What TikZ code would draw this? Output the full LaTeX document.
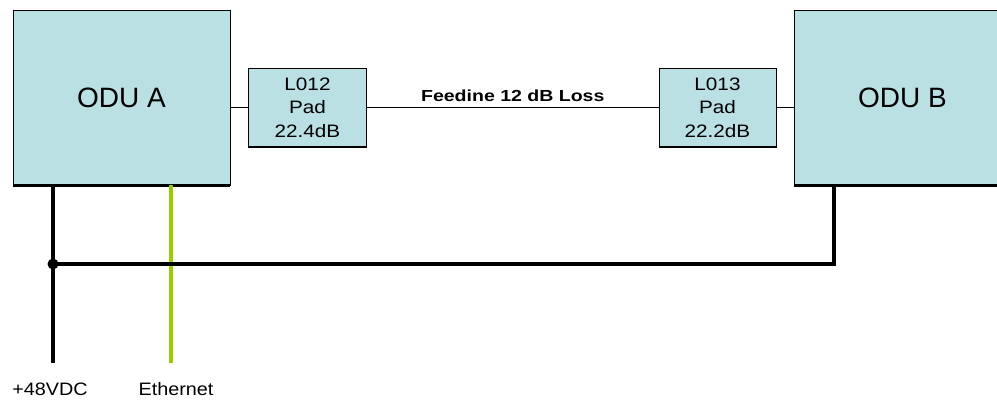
\documentclass[tikz,border=0pt]{standalone}
\usepackage{fontspec}
\setmainfont{Liberation Sans}
\begin{document}
\begin{tikzpicture}[x=1pt,y=-1pt,
  unitbox/.style={draw=black, line width=1pt, fill=boxfill, inner sep=0pt, outer sep=0pt,
                  font=\fontsize{28}{32}\selectfont},
  padbox/.style={draw=black, line width=1pt, fill=boxfill, inner sep=0pt, outer sep=0pt,
                 minimum width=118pt, minimum height=79pt, align=center,
                 font=\fontsize{18}{23.5}\selectfont},
  wire/.style={line width=1.6pt},
  power/.style={line width=3.5pt},
  ethline/.style={line width=4pt, draw=ethgreen},
  lbl/.style={inner sep=0pt, font=\fontsize{18}{20}\selectfont}]
\definecolor{boxfill}{RGB}{187,224,227}
\definecolor{ethgreen}{RGB}{153,204,0}
\useasboundingbox (0,0) rectangle (997,400);
\clip (0,0) rectangle (997,400);

% outdoor units
\node[unitbox, minimum width=217pt, minimum height=175pt] (odua) at (121.5,97.5) {ODU A};
\node[unitbox, minimum width=217pt, minimum height=175pt] (odub) at (902.5,97.5) {ODU B};
\draw[line width=3pt] (odua.south west) -- (odua.south east);
\draw[line width=3pt] (odub.south west) -- (odub.south east);

% attenuator pads
\node[padbox] (pada) at (307.5,107.5) {\scalebox{1.15}[1]{L012}\\\scalebox{1.15}[1]{Pad}\\\scalebox{1.15}[1]{22.4dB}};
\node[padbox, minimum width=117pt] (padb) at (717.5,107.5) {\scalebox{1.15}[1]{L013}\\\scalebox{1.15}[1]{Pad}\\\scalebox{1.15}[1]{22.2dB}};
\draw[line width=2pt] (pada.south west) -- (pada.south east);
\draw[line width=2pt] (padb.south west) -- (padb.south east);

% RF path
\draw[wire] (odua.east |- pada.west) -- (pada.west);
\draw[wire] (pada.east) -- node[above=5pt, inner sep=0pt, font=\bfseries\fontsize{16}{17}\selectfont]
  {\scalebox{1.22}[1]{Feedine 12 dB Loss}} (padb.west);
\draw[wire] (padb.east) -- (odub.west |- padb.east);

% power and data feeds
\coordinate (pwr) at (53,363);
\coordinate (eth) at (171,363);
\coordinate (j) at (53,264);
\coordinate (bdrop) at (834,264);
\draw[ethline] (odua.south -| eth) -- (eth);
\draw[power] (odua.south -| pwr) -- (pwr);
\draw[power] (j) -- (bdrop) -- (odub.south -| bdrop);
\fill (j) circle (5.5pt);

\node[lbl] (pwrlbl) at (50,389) {\scalebox{1.1}[1]{+48VDC}};
\node[lbl] (ethlbl) at (176,389) {\scalebox{1.1}[1]{Ethernet}};
\end{tikzpicture}
\end{document}
